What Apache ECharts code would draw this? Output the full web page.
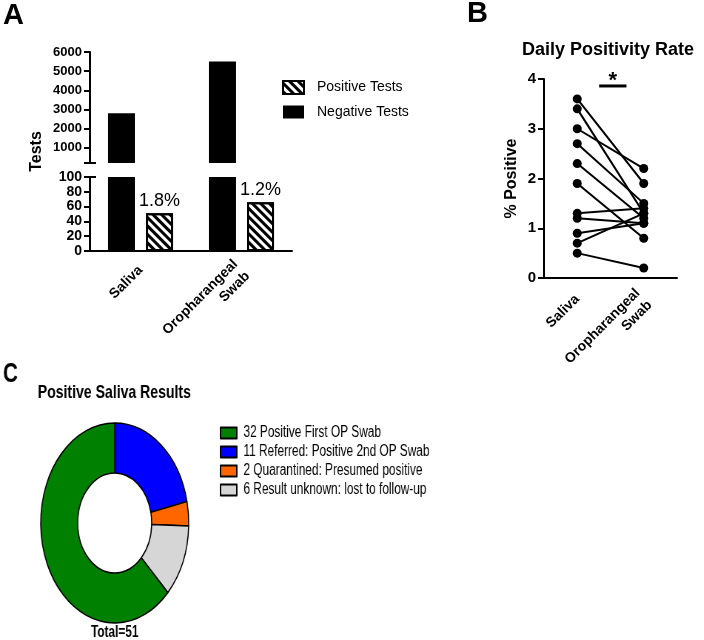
<!DOCTYPE html>
<html>
<head>
<meta charset="utf-8">
<title>Saliva testing</title>
<script src="https://cdn.jsdelivr.net/npm/echarts@6/dist/echarts.min.js"></script>
<style>
  html, body { margin: 0; padding: 0; background: #fff; }
  #panelAB { position: absolute; left: 0; top: 0; width: 704px; height: 390px; z-index: 2; }
  /* panel C is horizontally squeezed in the original figure */
  #panelC { position: absolute; left: 0; top: 340px; width: 951px; height: 300px;
            transform: scaleX(0.74); transform-origin: 0 0; z-index: 1; }
</style>
</head>
<body>
<div id="panelC"></div>
<div id="panelAB"></div>
<script>
var font = 'Liberation Sans, Arial, sans-serif';

// panel A
var testTypes = ['Saliva', 'Oropharangeal\nSwab'];
var negativeTests = [2800, 5500];
var positiveTests = [51, 66];
var positiveRate = ['1.8%', '1.2%'];
var upperTicks = [200, 1000, 2000, 3000, 4000, 5000, 6000];
var upperLabels = [1000, 2000, 3000, 4000, 5000, 6000];

// panel B (one pair per day)
var pairLabels = ['Saliva', 'Oropharangeal\nSwab'];
var salivaRate = [3.6, 3.4, 3.0, 2.7, 2.3, 1.9, 1.3, 1.2, 0.9, 0.7, 0.5];
var swabRate = [1.9, 1.3, 2.2, 1.5, 1.2, 0.8, 1.4, 1.1, 1.1, 1.3, 0.2];

// panel C
var outcomeCounts = [32, 11, 2, 6];
var outcomeNames = ['Positive First OP Swab', 'Referred: Positive 2nd OP Swab',
  'Quarantined: Presumed positive', 'Result unknown: lost to follow-up'];
var outcomeColors = ['#008000', '#0000ff', '#ff6600', '#d6d6d6'];
var pieOrder = [1, 2, 3, 0];

var black = { color: '#000', width: 2 };
var boldLabel = { color: '#000', fontWeight: 'bold', fontFamily: font };

var hatch = {
  symbol: 'rect', symbolSize: 1, dashArrayX: [1, 0], dashArrayY: [3, 3],
  rotation: Math.PI / 4, color: '#000'
};

var chartAB = echarts.init(document.getElementById('panelAB'));

var pairSeries = salivaRate.map(function(v, i) {
  return {
    type: 'line', name: 'day' + (i + 1), xAxisIndex: 2, yAxisIndex: 2,
    data: [v, swabRate[i]],
    symbol: 'circle', symbolSize: 9,
    itemStyle: { color: '#000' },
    lineStyle: { color: '#000', width: 2 }
  };
});

var optionAB = {
  animation: false,
  textStyle: { fontFamily: font },
  title: [
    { text: 'A', left: 3, top: 1, padding: 0, textStyle: { fontSize: 29, fontWeight: 'bold', color: '#000', fontFamily: font } },
    { text: 'B', left: 467, top: -1, padding: 0, textStyle: { fontSize: 29, fontWeight: 'bold', color: '#000', fontFamily: font } },
    { text: 'Daily Positivity Rate', left: 608, textAlign: 'center', top: 41, padding: 0,
      textStyle: { fontSize: 18, fontWeight: 'bold', color: '#000', fontFamily: font } }
  ],
  legend: {
    orient: 'vertical', left: 282, top: 80, padding: 0, icon: 'rect',
    itemWidth: 21, itemHeight: 13, itemGap: 10,
    data: ['Positive Tests', 'Negative Tests'],
    textStyle: { fontSize: 14, color: '#000', fontFamily: font, padding: [0, 0, 0, 8] }
  },
  grid: [
    { left: 90, top: 52, width: 202, height: 111 },
    { left: 90, top: 177, width: 202, height: 74 },
    { left: 544, top: 79, width: 133, height: 199 }
  ],
  xAxis: [
    { gridIndex: 0, type: 'category', data: testTypes, show: false },
    { gridIndex: 1, type: 'category', data: testTypes,
      axisLine: { lineStyle: black },
      axisTick: { alignWithLabel: true, length: 6, lineStyle: black },
      axisLabel: Object.assign({ rotate: 45, fontSize: 14, interval: 0, margin: 17, lineHeight: 17 }, boldLabel) },
    { gridIndex: 2, type: 'category', data: pairLabels,
      axisLine: { lineStyle: black },
      axisTick: { alignWithLabel: true, length: 6, lineStyle: black },
      axisLabel: Object.assign({ rotate: 45, fontSize: 14, interval: 0, margin: 19, lineHeight: 17 }, boldLabel) }
  ],
  yAxis: [
    { gridIndex: 0, type: 'value', min: 200, max: 6000,
      axisLine: { show: true, lineStyle: black },
      axisTick: { show: true, length: 6, lineStyle: black, customValues: upperTicks },
      axisLabel: Object.assign({ fontSize: 13, margin: 8, customValues: upperLabels,
        formatter: function(v) { return String(v); } }, boldLabel),
      splitLine: { show: false } },
    { gridIndex: 1, type: 'value', min: 0, max: 100, interval: 20,
      axisLine: { show: true, lineStyle: black },
      axisTick: { show: true, length: 6, lineStyle: black },
      axisLabel: Object.assign({ fontSize: 14, margin: 8, showMinLabel: true, showMaxLabel: true,
        hideOverlap: false }, boldLabel),
      splitLine: { show: false } },
    { gridIndex: 2, type: 'value', min: 0, max: 4, interval: 1,
      name: '% Positive', nameLocation: 'middle', nameGap: 24, nameRotate: 90,
      nameTextStyle: Object.assign({ fontSize: 16 }, boldLabel),
      axisLine: { show: true, lineStyle: black },
      axisTick: { show: true, length: 6, lineStyle: black },
      axisLabel: Object.assign({ fontSize: 15, margin: 8 }, boldLabel),
      splitLine: { show: false } }
  ],
  series: [
    { type: 'bar', name: 'Negative Tests', xAxisIndex: 0, yAxisIndex: 0, data: negativeTests,
      barWidth: 27, barGap: '41%', itemStyle: { color: '#000' } },
    { type: 'bar', name: 'Positive Tests', xAxisIndex: 0, yAxisIndex: 0, data: positiveTests,
      barWidth: 27, barGap: '41%', itemStyle: { color: '#fff', borderColor: '#000', borderWidth: 2, decal: hatch } },
    { type: 'bar', name: 'Negative Tests', xAxisIndex: 1, yAxisIndex: 1, data: negativeTests,
      barWidth: 27, barGap: '41%', itemStyle: { color: '#000' } },
    { type: 'bar', name: 'Positive Tests', xAxisIndex: 1, yAxisIndex: 1, data: positiveTests,
      barWidth: 27, barGap: '41%', itemStyle: { color: '#fff', borderColor: '#000', borderWidth: 2, decal: hatch },
      label: { show: true, position: 'top', distance: 3, fontSize: 18, color: '#000', fontFamily: font,
        formatter: function(p) { return positiveRate[p.dataIndex]; } } }
  ].concat(pairSeries)
};

chartAB.setOption(optionAB);

// axis title spanning the broken axis, break caps and the significance bar
var top6000 = chartAB.convertToPixel({ xAxisIndex: 0, yAxisIndex: 0 }, [0, 6000]);
var breakTop = chartAB.convertToPixel({ xAxisIndex: 0, yAxisIndex: 0 }, [0, 200]);
var breakBottom = chartAB.convertToPixel({ xAxisIndex: 1, yAxisIndex: 1 }, [0, 100]);
var bottom0 = chartAB.convertToPixel({ xAxisIndex: 1, yAxisIndex: 1 }, [0, 0]);
var axisX = 90;
var salivaPt = chartAB.convertToPixel({ xAxisIndex: 2, yAxisIndex: 2 }, [0, 3.86]);
var swabPt = chartAB.convertToPixel({ xAxisIndex: 2, yAxisIndex: 2 }, [1, 3.86]);
var span = swabPt[0] - salivaPt[0];
var sigX1 = salivaPt[0] + 0.33 * span;
var sigX2 = salivaPt[0] + 0.74 * span;

chartAB.setOption({
  graphic: [
    { type: 'text', x: 37, y: (top6000[1] + bottom0[1]) / 2, rotation: Math.PI / 2,
      style: { text: 'Tests', align: 'center', verticalAlign: 'middle', fill: '#000',
        font: 'bold 16px ' + font } },
    { type: 'line', shape: { x1: axisX - 6, y1: breakTop[1], x2: axisX + 6, y2: breakTop[1] },
      style: { stroke: '#000', lineWidth: 2 } },
    { type: 'line', shape: { x1: axisX - 6, y1: breakBottom[1], x2: axisX + 6, y2: breakBottom[1] },
      style: { stroke: '#000', lineWidth: 2 } },
    { type: 'line', shape: { x1: sigX1, y1: salivaPt[1], x2: sigX2, y2: salivaPt[1] },
      style: { stroke: '#000', lineWidth: 3 } },
    { type: 'text', x: (sigX1 + sigX2) / 2, y: salivaPt[1] + 6,
      style: { text: '*', align: 'center', verticalAlign: 'bottom', fill: '#000',
        font: 'bold 22px ' + font } }
  ]
});

// panel C
var chartC = echarts.init(document.getElementById('panelC'));
var total = outcomeCounts.reduce(function(a, b) { return a + b; }, 0);
var legendNames = outcomeNames.map(function(n, i) { return outcomeCounts[i] + ' ' + n; });

chartC.setOption({
  animation: false,
  textStyle: { fontFamily: font },
  title: [
    { text: 'C', left: 4, top: 20, padding: 0, textStyle: { fontSize: 28, fontWeight: 'bold', color: '#000', fontFamily: font } },
    { text: 'Positive Saliva Results', left: 51, top: 43, padding: 0,
      textStyle: { fontSize: 19, fontWeight: 'bold', color: '#000', fontFamily: font } },
    { text: 'Total=' + total, left: 155, textAlign: 'center', top: 285, padding: 0,
      textStyle: { fontSize: 16, fontWeight: 'bold', color: '#000', fontFamily: font } }
  ],
  legend: {
    orient: 'vertical', left: 297, top: 85, padding: 0, icon: 'rect',
    itemWidth: 22, itemHeight: 11, itemGap: 3,
    data: legendNames,
    textStyle: { fontSize: 16, lineHeight: 16, color: '#000', fontFamily: font, padding: [0, 0, 0, 4] }
  },
  series: [{
    type: 'pie', center: [155, 183], radius: [50, 100],
    startAngle: 90, clockwise: true,
    label: { show: false }, labelLine: { show: false },
    emphasis: { disabled: true },
    itemStyle: { borderColor: '#000', borderWidth: 1.5 },
    data: pieOrder.map(function(i) {
      return { name: legendNames[i], value: outcomeCounts[i], itemStyle: { color: outcomeColors[i] } };
    })
  }]
});
</script>
</body>
</html>
